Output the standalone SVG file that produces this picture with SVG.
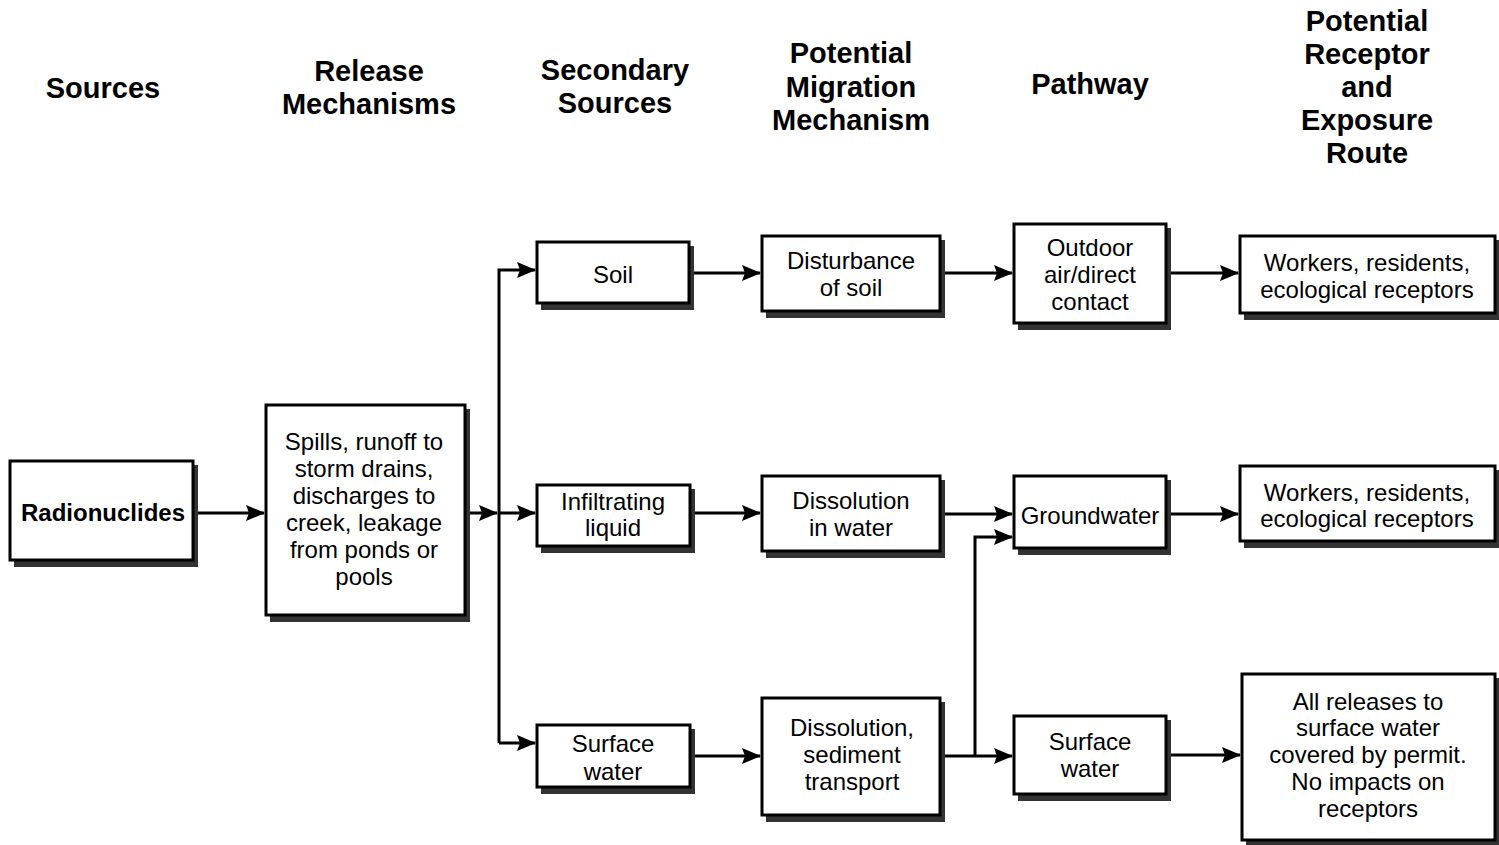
<svg xmlns="http://www.w3.org/2000/svg" width="1499" height="845" viewBox="0 0 1499 845">
<style>
.hd{font-family:"Liberation Sans",Arial,sans-serif;font-weight:bold;font-size:29px;text-anchor:middle;fill:#000}
.tx{font-family:"Liberation Sans",Arial,sans-serif;font-size:24px;text-anchor:middle;fill:#000}
.b{fill:#fff;stroke:#000;stroke-width:3}
.sh{fill:#333}
.c{fill:none;stroke:#000;stroke-width:3}
</style>
<defs>
<marker id="ah" markerUnits="userSpaceOnUse" markerWidth="19" markerHeight="16" refX="18" refY="8" orient="auto">
<path d="M0,0 L19,8 L0,16 L3,8 Z" fill="#000"/>
</marker>
</defs>
<rect width="1499" height="845" fill="#fff"/>
<g id="headers">
<text class="hd" x="103" y="98">Sources</text>
<text class="hd" x="369" y="81">Release</text>
<text class="hd" x="369" y="114">Mechanisms</text>
<text class="hd" x="615" y="80">Secondary</text>
<text class="hd" x="615" y="113">Sources</text>
<text class="hd" x="851" y="63">Potential</text>
<text class="hd" x="851" y="97">Migration</text>
<text class="hd" x="851" y="130">Mechanism</text>
<text class="hd" x="1090" y="94">Pathway</text>
<text class="hd" x="1367" y="31">Potential</text>
<text class="hd" x="1367" y="64">Receptor</text>
<text class="hd" x="1367" y="97">and</text>
<text class="hd" x="1367" y="130">Exposure</text>
<text class="hd" x="1367" y="163">Route</text>
</g>
<g id="connectors">
<path class="c" d="M193,513 H264" marker-end="url(#ah)"/>
<path class="c" d="M465,513 H497" marker-end="url(#ah)"/>
<path class="c" d="M499,743 V270 H535" marker-end="url(#ah)"/>
<path class="c" d="M499,513 H535" marker-end="url(#ah)"/>
<path class="c" d="M499,743 H535" marker-end="url(#ah)"/>
<path class="c" d="M690,273 H760" marker-end="url(#ah)"/>
<path class="c" d="M940,273 H1012" marker-end="url(#ah)"/>
<path class="c" d="M1167,273 H1238" marker-end="url(#ah)"/>
<path class="c" d="M690,513 H760" marker-end="url(#ah)"/>
<path class="c" d="M940,514 H1012" marker-end="url(#ah)"/>
<path class="c" d="M1167,514 H1238" marker-end="url(#ah)"/>
<path class="c" d="M690,756 H760" marker-end="url(#ah)"/>
<path class="c" d="M940,756 H1012" marker-end="url(#ah)"/>
<path class="c" d="M975,756 V537 H1012" marker-end="url(#ah)"/>
<path class="c" d="M1167,755 H1240" marker-end="url(#ah)"/>
</g>
<g id="radionuclides">
<rect class="sh" x="14" y="465" width="184" height="102"/>
<rect class="b" x="10" y="461" width="183" height="99"/>
<text class="tx" x="103" y="521" font-weight="bold">Radionuclides</text>
</g>
<g id="spills">
<rect class="sh" x="270" y="409" width="200" height="213"/>
<rect class="b" x="266" y="405" width="199" height="210"/>
<text class="tx" x="364" y="450">Spills, runoff to</text>
<text class="tx" x="364" y="477">storm drains,</text>
<text class="tx" x="364" y="504">discharges to</text>
<text class="tx" x="364" y="531">creek, leakage</text>
<text class="tx" x="364" y="558">from ponds or</text>
<text class="tx" x="364" y="585">pools</text>
</g>
<g id="soil">
<rect class="sh" x="541" y="246" width="153" height="64"/>
<rect class="b" x="537" y="242" width="152" height="61"/>
<text class="tx" x="613" y="283">Soil</text>
</g>
<g id="infiltrating">
<rect class="sh" x="541" y="489" width="154" height="64"/>
<rect class="b" x="537" y="485" width="153" height="61"/>
<text class="tx" x="613" y="510">Infiltrating</text>
<text class="tx" x="613" y="536">liquid</text>
</g>
<g id="surface-secondary">
<rect class="sh" x="541" y="729" width="154" height="65"/>
<rect class="b" x="537" y="725" width="153" height="62"/>
<text class="tx" x="613" y="752">Surface</text>
<text class="tx" x="613" y="780">water</text>
</g>
<g id="disturbance">
<rect class="sh" x="766" y="240" width="179" height="78"/>
<rect class="b" x="762" y="236" width="178" height="75"/>
<text class="tx" x="851" y="269">Disturbance</text>
<text class="tx" x="851" y="296">of soil</text>
</g>
<g id="dissolution">
<rect class="sh" x="766" y="480" width="179" height="78"/>
<rect class="b" x="762" y="476" width="178" height="75"/>
<text class="tx" x="851" y="509">Dissolution</text>
<text class="tx" x="851" y="536">in water</text>
</g>
<g id="sediment">
<rect class="sh" x="766" y="702" width="179" height="120"/>
<rect class="b" x="762" y="698" width="178" height="117"/>
<text class="tx" x="852" y="736">Dissolution,</text>
<text class="tx" x="852" y="763">sediment</text>
<text class="tx" x="852" y="790">transport</text>
</g>
<g id="outdoor">
<rect class="sh" x="1018" y="228" width="153" height="102"/>
<rect class="b" x="1014" y="224" width="152" height="99"/>
<text class="tx" x="1090" y="256">Outdoor</text>
<text class="tx" x="1090" y="283">air/direct</text>
<text class="tx" x="1090" y="310">contact</text>
</g>
<g id="groundwater">
<rect class="sh" x="1018" y="480" width="153" height="75"/>
<rect class="b" x="1014" y="476" width="152" height="72"/>
<text class="tx" x="1090" y="524">Groundwater</text>
</g>
<g id="surface-pathway">
<rect class="sh" x="1018" y="720" width="153" height="81"/>
<rect class="b" x="1014" y="716" width="152" height="78"/>
<text class="tx" x="1090" y="750">Surface</text>
<text class="tx" x="1090" y="777">water</text>
</g>
<g id="workers1">
<rect class="sh" x="1244" y="240" width="255" height="80"/>
<rect class="b" x="1240" y="236" width="255" height="77"/>
<text class="tx" x="1367" y="271">Workers, residents,</text>
<text class="tx" x="1367" y="298">ecological receptors</text>
</g>
<g id="workers2">
<rect class="sh" x="1244" y="470" width="255" height="78"/>
<rect class="b" x="1240" y="466" width="255" height="75"/>
<text class="tx" x="1367" y="501">Workers, residents,</text>
<text class="tx" x="1367" y="527">ecological receptors</text>
</g>
<g id="releases">
<rect class="sh" x="1246" y="678" width="253" height="167"/>
<rect class="b" x="1242" y="674" width="253" height="166"/>
<text class="tx" x="1368" y="710">All releases to</text>
<text class="tx" x="1368" y="736">surface water</text>
<text class="tx" x="1368" y="763">covered by permit.</text>
<text class="tx" x="1368" y="790">No impacts on</text>
<text class="tx" x="1368" y="817">receptors</text>
</g>
</svg>
